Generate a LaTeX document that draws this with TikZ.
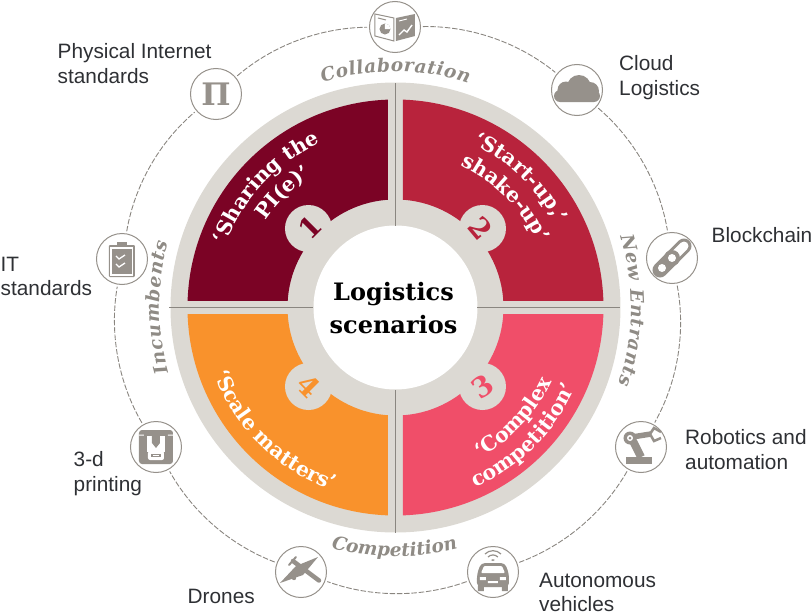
\documentclass[tikz,border=0pt]{standalone}
\usepackage{fontspec}
\usetikzlibrary{decorations.text}
\setmainfont{Liberation Sans}
\newfontfamily\gfont{DejaVu Serif}
\definecolor{qone}{HTML}{7B0325}
\definecolor{qtwo}{HTML}{B8233C}
\definecolor{qthree}{HTML}{F04E69}
\definecolor{qfour}{HTML}{F9922C}
\definecolor{ringc}{HTML}{DCD9D3}
\definecolor{linec}{HTML}{8A8680}
\definecolor{iconc}{HTML}{96918B}
\definecolor{ringtext}{HTML}{8F8B85}
\definecolor{labelc}{HTML}{2E3034}
\newcommand{\arctext}[7]{% r, a1, a2, size, colour, align, text
  \path[decorate,decoration={text along path,text align={#6},text color=#5,
    text={|\gfont\bfseries\fontsize{#4}{#4}\selectfont|#7}}] (#2:#1) arc (#2:#3:#1);}
\newcommand{\arctextit}[7]{%
  \path[decorate,decoration={text along path,text align={#6},text color=#5,
    text={|\gfont\bfseries\itshape\fontsize{#4}{#4}\selectfont|#7}}] (#2:#1) arc (#2:#3:#1);}
\tikzset{
  iconnode/.style={circle,draw=iconc,line width=1pt,fill=white,minimum size=51pt,inner sep=0pt},
  link/.style={draw=linec,line width=.9pt,dash pattern=on 5.5pt off 1.8pt,bend left=20,looseness=.88,shorten >=2pt,shorten <=2pt},
  divider/.style={draw=linec,line width=1.5pt},
  lab/.style={anchor=west,align=left,inner sep=0pt,text=labelc,font=\fontsize{20.8}{24.6}\selectfont},
  ic/.style={fill=iconc,draw=none},
  num/.style={inner sep=0pt,font=\gfont\bfseries\fontsize{28}{28}\selectfont},
}
\begin{document}
\begin{tikzpicture}[x=1pt,y=1pt]
\useasboundingbox (-395.5,307.5) rectangle (416.5,-306.5);
% wheel
\fill[ringc] (0,0) circle (225);
\begin{scope}\clip (-300,7) rectangle (-7.5,300); \fill[qone,even odd rule] (0,0) circle (208) (0,0) circle (108);\end{scope}
\begin{scope}\clip (7.5,7) rectangle (300,300); \fill[qtwo,even odd rule] (0,0) circle (208) (0,0) circle (108);\end{scope}
\begin{scope}\clip (7.5,-7) rectangle (300,-300); \fill[qthree,even odd rule] (0,0) circle (208) (0,0) circle (108);\end{scope}
\begin{scope}\clip (-300,-7) rectangle (-7.5,-300); \fill[qfour,even odd rule] (0,0) circle (208) (0,0) circle (108);\end{scope}
\foreach \p in {(-87,79),(87,79),(87,-79),(-87,-79)} \fill[ringc] \p circle (23.5);
\fill[white] (0,0) circle (82);
\draw[divider] (0,82) -- (0,225);
\draw[divider] (0,-82) -- (0,-225);
\draw[divider] (-82,0) -- (-226,0);
\draw[divider] (82,0) -- (225,0);
\node[inner sep=0pt,align=center,text=black,font=\gfont\bfseries\fontsize{24}{33}\selectfont] (title) at (-2,-1) {Logistics\\scenarios};
% numbers
\node[num,text=qone,rotate=45] (n1) at (-85,80) {1};
\node[num,text=qtwo,rotate=-50] (n2) at (85,79) {2};
\node[num,text=qthree,rotate=35] (n3) at (87,-79) {3};
\node[num,text=qfour,rotate=-45] (n4) at (-87,-79) {4};
% scenario titles
\arctext{181}{167}{107}{20.5}{white}{center}{‘Sharing the}
\arctext{156}{157}{112}{20.5}{white}{center}{PI(e)’}
\arctext{181}{72}{20}{20.5}{white}{center}{‘Start-up,’}
\arctext{156}{76}{14}{20.5}{white}{center}{shake-up’}
\arctext{173}{-70}{-16}{20.5}{white}{center}{‘Complex}
\arctext{197}{-74}{-16}{20.5}{white}{center}{competition’}
\arctext{193}{-168}{-101}{20.5}{white}{center}{‘Scale matters’}
% ring labels
\arctextit{236}{108}{72}{18.5}{ringtext}{fit to path}{Collaboration}
\arctextit{236}{196}{164}{18.5}{ringtext}{fit to path}{Incumbents}
\arctextit{236}{17.5}{-19}{18.5}{ringtext}{fit to path}{New Entrants}
\arctextit{249}{-105}{-77}{18.5}{ringtext}{fit to path}{Competition}
% icon nodes
\node[iconnode] (book) at (-.5,280.5) {};
\node[iconnode] (cloud) at (181.5,217.5) {};
\node[iconnode] (chain) at (276.5,49.5) {};
\node[iconnode] (robot) at (245.5,-139.5) {};
\node[iconnode] (car) at (97.5,-264.5) {};
\node[iconnode] (plane) at (-94.5,-264.5) {};
\node[iconnode] (printer) at (-239.5,-139.5) {};
\node[iconnode] (clip) at (-273.5,48.5) {};
\node[iconnode,text=iconc,font=\gfont\bfseries\fontsize{31}{31}\selectfont] (pi) at (-179.5,213.5) {Π};
\draw[link] (book) to (cloud);
\draw[link] (cloud) to (chain);
\draw[link] (chain) to (robot);
\draw[link] (robot) to (car);
\draw[link] (car) to (plane);
\draw[link] (plane) to (printer);
\draw[link] (printer) to (clip);
\draw[link] (clip) to (pi);
\draw[link] (pi) to (book);
% book icon
\begin{scope}[shift={(book.center)}]
\draw[iconc,line width=1pt] (-20,13) -- (-1,9) -- (-1,-14) -- (-20,-9) -- cycle;
\fill[iconc] (1,9) -- (20,13) -- (20,-9) -- (1,-14) -- cycle;
\fill[iconc] (-10,-2) circle (5.5);
\fill[white] (-10,-2) -- (-10,3.5) arc (90:0:5.5) -- cycle;
\draw[iconc,line width=1pt] (-17,9) -- (-9,7);
\draw[white,line width=1.4pt] (4,-8) -- (9,-3) -- (12,-5) -- (17,2);
\draw[white,line width=.9pt] (4,6) -- (12,8);
\end{scope}
% cloud icon
\begin{scope}[shift={(cloud.center)}]
\fill[ic] (-23,-6) arc (180:270:6) -- (17,-12) arc (-90:90:6) -- (-17,0) arc (90:180:6) -- cycle;
\fill[ic] (-11,0) circle (8.5) (2,3) circle (12) (13,-1) circle (9);
\end{scope}
% chain icon
\begin{scope}[shift={(chain.center)}]
\draw[iconc,line width=15pt,line cap=round] (-12,-12) -- (12,12);
\draw[white,line width=9pt,line cap=round] (2,2) -- (12,12);
\fill[iconc] (0,0) circle (8);
\fill[white] (0,0) circle (4);
\fill[white] (-10,-10) circle (4);
\end{scope}
% robot icon
\begin{scope}[shift={(robot.center)}]
\fill[ic] (-15,-17) rectangle (11,-10);
\draw[iconc,line width=8pt] (-8,6) -- (0,-10);
\draw[iconc,line width=5.5pt] (-9,10) -- (10,13);
\fill[iconc] (-11,9) circle (6.5);
\fill[white] (-11,9) circle (3);
\fill[iconc] (-11,9) circle (1.5);
\draw[iconc,line width=2.5pt] (9,13) -- (13,19) -- (20,15);
\draw[iconc,line width=2.5pt] (9,13) -- (13,6) -- (20,9);
\end{scope}
% car icon
\begin{scope}[shift={(car.center)}]
\draw[iconc,line width=1.2pt] (-5,15) arc (135:45:7);
\draw[iconc,line width=1.2pt] (-8,18) arc (135:45:11.3);
\fill[iconc] (-2,12) arc (135:45:2.8) -- (0,11) -- cycle;
\fill[ic,rounded corners=4pt] (-12,9) -- (12,9) -- (16,-2) -- (16,-15) -- (-16,-15) -- (-16,-2) -- cycle;
\fill[ic] (-15,-19) rectangle (-9,-14) (9,-19) rectangle (15,-14);
\fill[white,rounded corners=1pt] (-9,6) -- (9,6) -- (12,-1) -- (-12,-1) -- cycle;
\fill[white] (-13,-8) rectangle (-7,-5) (7,-8) rectangle (13,-5) (-5,-11) rectangle (5,-9);
\end{scope}
% plane icon
\begin{scope}[shift={(plane.center)}]
\draw[iconc,line width=4.5pt,line cap=round] (-8,11) -- (18,-8.5);
\fill[iconc] (-21,-11) -- (-5,6) -- (17,15) -- (2,-3) -- cycle;
\draw[iconc,line width=2pt,line cap=round] (-12,7) -- (-5,15);
\fill[iconc] (-7,-6) circle (2.2) (8,8) circle (2.2);
\end{scope}
% printer icon
\begin{scope}[shift={(printer.center)}]
\fill[ic,rounded corners=3pt] (-17,17) rectangle (17,-17);
\fill[white] (-9,11) rectangle (9,-5);
\fill[white] (-17,11.5) rectangle (-12,12.5) (12,11.5) rectangle (17,12.5);
\fill[iconc] (-4,11) rectangle (4,4) -- (0,-1) -- (-4,4) -- cycle;
\fill[white,rounded corners=2pt] (-8,-4) rectangle (8,-13);
\fill[iconc] (-5,-7) rectangle (5,-10);
\fill[white] (-3,-8) rectangle (3,-9);
\end{scope}
% clipboard icon
\begin{scope}[shift={(clip.center)}]
\fill[ic,rounded corners=1pt] (-13,14) rectangle (13,-18);
\fill[white] (-11.5,12.5) rectangle (11.5,-16.5);
\fill[ic] (-10,10) rectangle (10,-15);
\fill[ic] (-5,13) rectangle (5,17);
\draw[white,line width=1.3pt] (-6,3) -- (-3,0) -- (3,4);
\draw[white,line width=1.3pt] (-6,-5) -- (-3,-8) -- (3,-4);
\end{scope}
% labels
\node[lab] (lpi) at (-338,244) {Physical Internet\\standards};
\node[lab] (lcloud) at (223.5,230) {Cloud\\Logistics};
\node[lab] (lchain) at (316,72.5) {Blockchain};
\node[lab] (lclip) at (-395,31) {IT\\standards};
\node[lab] (lprint) at (-322,-166) {3-d\\printing};
\node[lab] (lrobot) at (289.5,-142) {Robotics and\\automation};
\node[lab] (ldrone) at (-208,-288.5) {Drones};
\node[lab] (lcar) at (143.5,-285) {Autonomous\\vehicles};
\end{tikzpicture}
\end{document}
